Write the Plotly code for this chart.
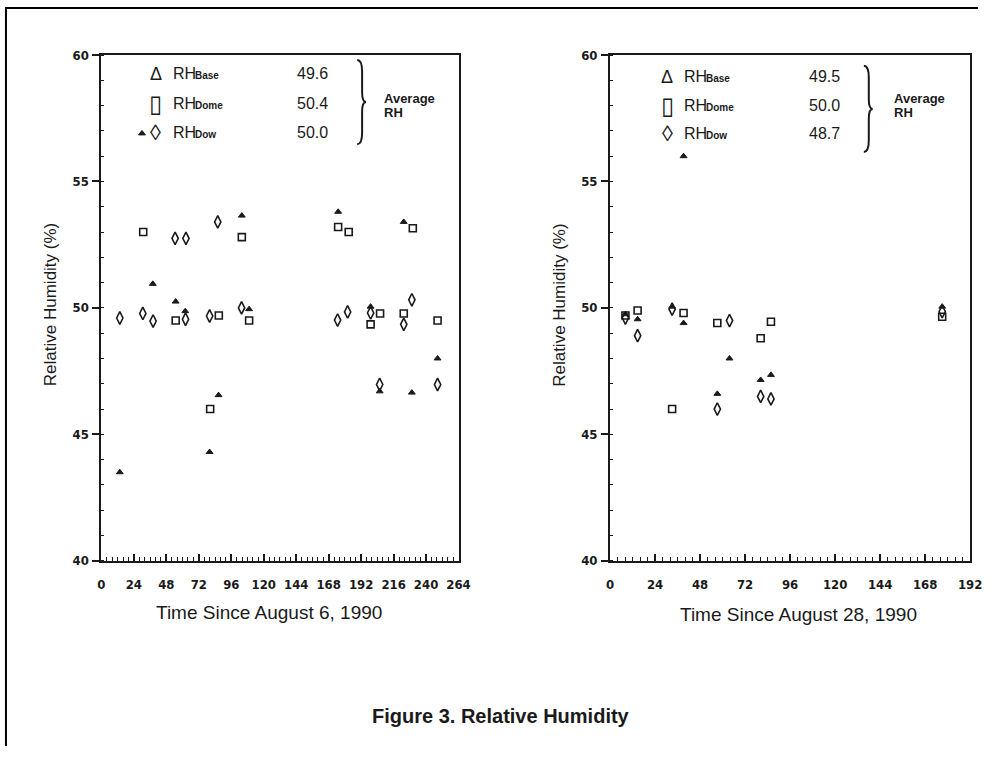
import plotly.graph_objects as go

# page is 1006x770; the html body keeps an 8px margin, so the figure is 16px smaller
PAGE_W, PAGE_H = 1006, 770
OFF = 8
W, H = PAGE_W - 2 * OFF, PAGE_H - 2 * OFF

# ---------------- data ----------------
# Left panel: Time since August 6, 1990 (hours)
L_base_x = [13.6, 30.0, 38.0, 54.9, 62.0, 80.0, 86.6, 103.8, 109.2, 175.0, 199.0, 205.7, 223.5, 229.5, 248.5]
L_base_y = [43.5, 56.9, 50.95, 50.25, 49.87, 44.3, 46.55, 53.65, 49.95, 53.8, 50.05, 46.7, 53.4, 46.65, 48.0]
L_dome_x = [30.9, 54.9, 80.4, 86.8, 103.8, 109.2, 175.0, 182.8, 199.0, 206.0, 223.5, 230.2, 248.5]
L_dome_y = [53.0, 49.5, 46.0, 49.7, 52.8, 49.5, 53.2, 53.0, 49.35, 49.78, 49.78, 53.15, 49.5]
L_dow_x = [13.6, 30.6, 38.2, 54.5, 62.5, 62.2, 80.0, 86.0, 103.6, 174.6, 182.0, 199.0, 205.7, 223.5, 229.5, 248.5]
L_dow_y = [49.6, 49.78, 49.48, 52.75, 52.75, 49.55, 49.68, 53.4, 50.0, 49.52, 49.84, 49.8, 46.97, 49.35, 50.32, 46.97]

# Right panel: Time since August 28, 1990 (hours)
R_base_x = [8.2, 14.7, 33.1, 39.2, 39.2, 57.2, 63.7, 80.3, 85.8, 177.1]
R_base_y = [49.75, 49.55, 50.05, 49.4, 56.0, 46.6, 48.0, 47.15, 47.35, 50.05]
R_dome_x = [8.2, 14.7, 33.1, 39.2, 57.2, 80.3, 85.8, 177.1]
R_dome_y = [49.7, 49.9, 46.0, 49.8, 49.4, 48.8, 49.45, 49.65]
R_dow_x = [8.2, 14.7, 33.1, 57.2, 63.7, 80.3, 85.8, 177.1]
R_dow_y = [49.6, 48.9, 49.95, 46.0, 49.5, 46.5, 46.4, 49.85]

L_avg = ["49.6", "50.4", "50.0"]
R_avg = ["49.5", "50.0", "48.7"]
sub_names = ["Base", "Dome", "Dow"]
glyphs = ["Δ", "▯", "◊"]

x_left_ticks = list(range(0, 265, 24))
x_right_ticks = list(range(0, 193, 24))
y_ticks = [40, 45, 50, 55, 60]

# ---------------- helpers (page pixels -> paper fractions) ----------------
def px(x):
    return (x - OFF) / W

def py(y):
    return 1 - (y - OFF) / H

INK = "#1a1a1a"
TICKFONT = dict(family="Liberation Sans Narrow, DejaVu Sans Condensed, Liberation Sans, Arial, sans-serif",
                size=13, color=INK, weight="bold")
TXTFONT = "Liberation Sans, Arial, Helvetica, sans-serif"

fig = go.Figure()

def add_series(xs, ys, xa, ya, symbol, size, lw, name):
    fig.add_trace(go.Scatter(
        x=xs, y=ys, mode="markers", name=name, xaxis=xa, yaxis=ya,
        marker=dict(symbol=symbol, size=size, color=INK, line=dict(color=INK, width=lw)),
        showlegend=False, hoverinfo="x+y"))

add_series(L_base_x, L_base_y, "x", "y", "triangle-up", 6, 1, "RH Base")
add_series(L_dome_x, L_dome_y, "x", "y", "square-open", 7, 1.6, "RH Dome")
add_series(L_dow_x, L_dow_y, "x", "y", "diamond-tall-open", 9, 1.6, "RH Dow")
add_series(R_base_x, R_base_y, "x2", "y2", "triangle-up", 6, 1, "RH Base")
add_series(R_dome_x, R_dome_y, "x2", "y2", "square-open", 7, 1.6, "RH Dome")
add_series(R_dow_x, R_dow_y, "x2", "y2", "diamond-tall-open", 9, 1.6, "RH Dow")

def xaxis(dom, rng, ticks):
    return dict(domain=dom, range=rng, tickvals=ticks, showgrid=False, zeroline=False,
                showline=True, linecolor=INK, linewidth=2, mirror=True,
                ticks="inside", ticklen=7, tickwidth=1.5, tickcolor=INK,
                minor=dict(ticks="inside", ticklen=4, dtick=4, tickwidth=1.2, tickcolor=INK),
                tickfont=TICKFONT, ticklabelstandoff=11, fixedrange=True)

def yaxis(dom, anchor):
    return dict(domain=dom, range=[40, 60], tickvals=y_ticks, showgrid=False, zeroline=False,
                showline=True, linecolor=INK, linewidth=2, mirror=True, anchor=anchor,
                ticks="outside", ticklen=7, tickwidth=1.5, tickcolor=INK,
                minor=dict(ticks="inside", ticklen=3, dtick=1, tickwidth=1.2, tickcolor=INK),
                tickfont=TICKFONT, ticklabelstandoff=1, fixedrange=True)

ydom = [py(573), py(57)]
fig.update_layout(
    width=W, height=H, margin=dict(l=0, r=0, t=0, b=0),
    paper_bgcolor="white", plot_bgcolor="white",
    xaxis=xaxis([px(107), px(470)], [0, 264], x_left_ticks) | dict(anchor="y"),
    yaxis=yaxis(ydom, "x"),
    xaxis2=xaxis([px(624), px(990)], [0, 192], x_right_ticks) | dict(anchor="y2"),
    yaxis2=yaxis(ydom, "x2"),
)

ann = []
def text(x, y, s, size, bold=False, xanchor="center", family=TXTFONT, angle=0):
    ann.append(dict(x=px(x), y=py(y), xref="paper", yref="paper", text=s, showarrow=False,
                    xanchor=xanchor, yanchor="middle", textangle=angle,
                    font=dict(family=family, size=size, color=INK, weight="bold" if bold else "normal")))

# axis titles
text(56, 312, "Relative Humidity (%)", 17, angle=-90)
text(573, 312, "Relative Humidity (%)", 17, angle=-90)
text(277, 626, "Time Since August 6, 1990", 19)
text(816, 628, "Time Since August 28, 1990", 19)
text(513, 731, "Figure 3. Relative Humidity", 20, bold=True)

# in-plot legends
glyph_sizes = [18, 24, 22]
def legend_block(gx, rx, vx, rows, vals, bx, by0, by1, ax, ay):
    for i, yy in enumerate(rows):
        text(gx, yy, glyphs[i], glyph_sizes[i])
        text(rx, yy, "RH", 16, xanchor="left")
        text(rx + 22, yy + 2, sub_names[i], 10, bold=True, xanchor="left")
        text(vx, yy, vals[i], 16)
    # brace
    ym = (by0 + by1) / 2
    pts = (f"M {px(bx-4)},{py(by0)} Q {px(bx+1)},{py(by0)} {px(bx+1)},{py(by0+12)} "
           f"L {px(bx+1)},{py(ym-10)} Q {px(bx+1)},{py(ym)} {px(bx+5)},{py(ym)} "
           f"Q {px(bx+1)},{py(ym)} {px(bx+1)},{py(ym+10)} "
           f"L {px(bx+1)},{py(by1-12)} Q {px(bx+1)},{py(by1)} {px(bx-4)},{py(by1)}")
    fig.add_shape(type="path", path=pts, xref="paper", yref="paper",
                  line=dict(color=INK, width=2))
    text(ax, ay, "Average", 13, bold=True, xanchor="left")
    text(ax, ay + 15, "RH", 13, bold=True, xanchor="left")

legend_block(162, 178, 322, [76, 106, 136], L_avg, 371, 62, 148, 392, 101)
legend_block(682, 697, 842, [79, 109, 137], R_avg, 886, 68, 156, 911, 101)

fig.update_layout(annotations=ann)

# outer frame (left and top edges of the scanned page border)
fig.add_shape(type="line", xref="paper", yref="paper", x0=px(10), x1=px(10), y0=0, y1=1,
              line=dict(color="black", width=2))
fig.add_shape(type="line", xref="paper", yref="paper", x0=px(10), x1=1, y0=py(9), y1=py(9),
              line=dict(color="black", width=2))

fig.write_html("out.html")
